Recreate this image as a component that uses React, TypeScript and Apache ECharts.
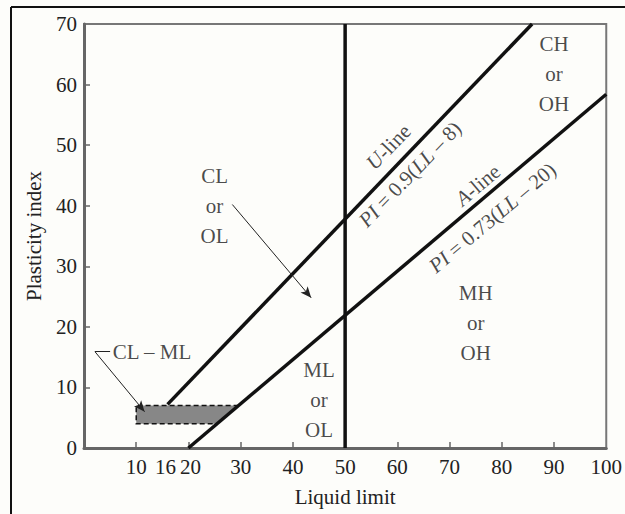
import React, { useEffect, useRef } from "react";
import * as echarts from "echarts";

const FONT = "Liberation Serif, Times New Roman, serif";

const xLabelValues = [10, 16, 20, 30, 40, 50, 60, 70, 80, 90, 100];
const xTickValues = [10, 20, 30, 40, 50, 60, 70, 80, 90];
const yTickValues = [10, 20, 30, 40, 50, 60];

const vLine = [[50, 0], [50, 70]];
const uLine = [[16, 7.2], [85.8, 70]];
const aLine = [[20, 0], [100, 58.4]];
const clmlZone = [[10, 4], [10, 7], [29.6, 7], [25.5, 4]];
const clmlOutline = [[29.6, 7], [10, 7], [10, 4], [25.5, 4]];

const regionLabels = [
  { pos: [25, 39.9], text: "CL\nor\nOL" },
  { pos: [45, 7.9], text: "ML\nor\nOL" },
  { pos: [75, 20.7], text: "MH\nor\nOH" },
  { pos: [90, 61.8], text: "CH\nor\nOH" },
];

const lineLabels = [
  { pos: [58.3, 49.7], text: "{i|U}-line", rotate: 46 },
  { pos: [62.4, 45.2], text: "{i|PI} = 0.9({i|LL} – 8)", rotate: 46 },
  { pos: [75.4, 43.4], text: "{i|A}-line", rotate: 40 },
  { pos: [78.2, 38.0], text: "{i|PI} = 0.73({i|LL} – 20)", rotate: 40 },
];

const clmlText = { pos: [5.4, 15.9], text: "CL – ML" };
const clArrow = [[28.4, 40.2], [43.5, 24.8]];
const clmlArrow = [[2.1, 15.9], [11.6, 6.0]];
const clmlHook = [[5.0, 15.9], [2.1, 15.9]];

export default function App() {
  const ref = useRef<HTMLDivElement>(null);
  useEffect(() => {
    const chart = echarts.init(ref.current!, null, { renderer: "svg" });
    const base = { fontFamily: FONT, fontSize: 21, color: "#222" };
    const rich = {
      i: { ...base, fontStyle: "italic", color: "#1a1a1a" },
    };
    const option: any = {
      animation: false,
      backgroundColor: "#fdfdfa",
      grid: {
        left: 84,
        right: 17,
        top: 24,
        bottom: 66,
        show: true,
        borderColor: "#777",
        borderWidth: 2,
        backgroundColor: "transparent",
      },
      xAxis: {
        type: "value",
        min: 0,
        max: 100,
        interval: 10,
        name: "Liquid limit",
        nameLocation: "middle",
        nameGap: 38,
        nameTextStyle: { fontFamily: FONT, fontSize: 21, color: "#222" },
        axisLine: { lineStyle: { color: "#666", width: 3 } },
        axisTick: {
          inside: true,
          length: 6,
          customValues: xTickValues,
          lineStyle: { color: "#666", width: 1.5 },
        },
        axisLabel: {
          customValues: xLabelValues,
          fontFamily: FONT,
          fontSize: 21,
          color: "#222",
          margin: 8,
          formatter: (v: number) =>
            v === 16 ? "{a|16}" : v === 20 ? "{b|20}" : String(v),
          rich: {
            a: { ...base, padding: [0, 4, 0, 0] },
            b: { ...base, padding: [0, 0, 0, 4] },
          },
        },
        splitLine: { show: false },
      },
      yAxis: {
        type: "value",
        min: 0,
        max: 70,
        interval: 10,
        name: "Plasticity index",
        nameLocation: "middle",
        nameRotate: 90,
        nameGap: 40,
        nameTextStyle: { fontFamily: FONT, fontSize: 21, color: "#222" },
        axisLine: { lineStyle: { color: "#666", width: 3 } },
        axisTick: {
          inside: true,
          length: 6,
          customValues: yTickValues,
          lineStyle: { color: "#666", width: 1.5 },
        },
        axisLabel: { fontFamily: FONT, fontSize: 21, color: "#222", margin: 7 },
        splitLine: { show: false },
      },
      graphic: [
        { type: "line", shape: { x1: 11, y1: 7, x2: 625, y2: 7 }, style: { stroke: "#111", lineWidth: 2 } },
        { type: "line", shape: { x1: 11, y1: 7, x2: 11, y2: 514 }, style: { stroke: "#111", lineWidth: 2 } },
      ],
      series: [
        {
          type: "custom",
          silent: true,
          data: [[0, 0]],
          renderItem: (_p: any, api: any) => ({
            type: "group",
            children: [
              {
                type: "polygon",
                shape: { points: clmlZone.map((p) => api.coord(p)) },
                style: { fill: "#878787" },
              },
              {
                type: "polyline",
                shape: { points: clmlOutline.map((p) => api.coord(p)) },
                style: { stroke: "#111", lineWidth: 1.5, lineDash: [5, 3], fill: null },
              },
            ],
          }),
        },
        ...[vLine, uLine, aLine].map((d) => ({
          type: "line",
          data: d,
          showSymbol: false,
          silent: true,
          lineStyle: { color: "#111", width: 3.5 },
        })),
        {
          type: "scatter",
          symbolSize: 1,
          silent: true,
          itemStyle: { color: "transparent" },
          label: {
            show: true,
            position: "inside",
            fontFamily: FONT,
            fontSize: 21,
            lineHeight: 30,
            color: "#1a1a1a",
            rich,
          },
          data: [
            ...regionLabels.map((r) => ({ value: r.pos, label: { formatter: r.text } })),
            ...lineLabels.map((r) => ({
              value: r.pos,
              label: { formatter: r.text, rotate: r.rotate },
            })),
            {
              value: clmlText.pos,
              label: { formatter: clmlText.text, position: "right", distance: 0 },
            },
          ],
          markLine: {
            silent: true,
            symbol: ["none", "arrow"],
            symbolSize: [7, 11],
            label: { show: false },
            lineStyle: { type: "solid", color: "#222", width: 1 },
            data: [
              [{ coord: clArrow[0] }, { coord: clArrow[1] }],
              [{ coord: clmlArrow[0] }, { coord: clmlArrow[1] }],
              [
                { coord: clmlHook[0], symbol: "none" },
                { coord: clmlHook[1], symbol: "none" },
              ],
            ],
          },
        },
      ],
    };
    chart.setOption(option);
    return () => chart.dispose();
  }, []);
  return (
    <div
      ref={ref}
      style={{ position: "fixed", left: 0, top: 0, width: 625, height: 514 }}
    />
  );
}
